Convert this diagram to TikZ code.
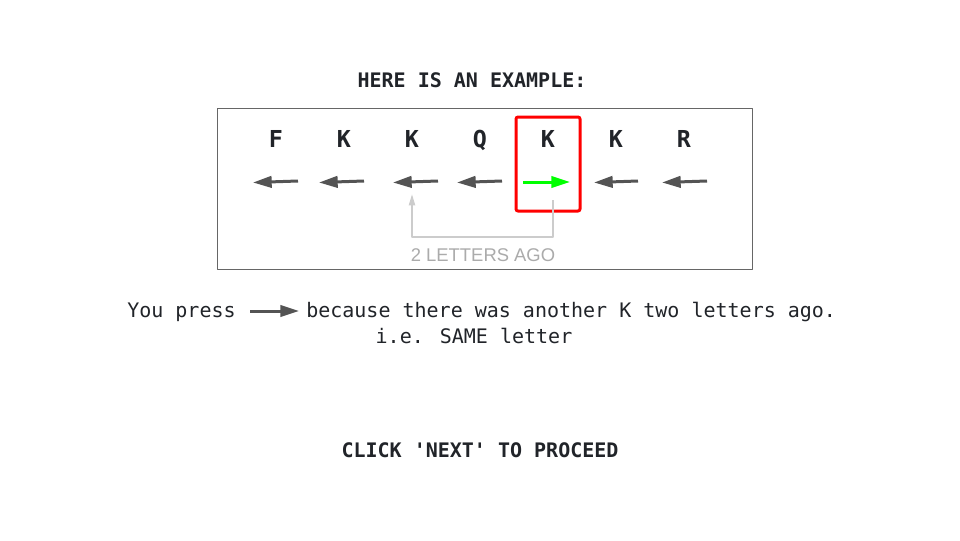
\documentclass[tikz,border=0pt]{standalone}
\usepackage{fontspec}
\setmainfont{DejaVu Sans Mono}
\newfontfamily\agofont{Liberation Sans}
\usetikzlibrary{arrows.meta}
\definecolor{txtgray}{rgb}{0.13,0.14,0.16}
\definecolor{keygray}{rgb}{0.33,0.33,0.33}
\definecolor{boxgray}{rgb}{0.4,0.4,0.4}
\definecolor{agogray}{rgb}{0.8,0.8,0.8}
\definecolor{agotext}{rgb}{0.67,0.67,0.67}
\definecolor{ggreen}{rgb}{0.,1.,0.}
\definecolor{rred}{rgb}{1.,0.,0.}
\tikzset{
  title/.style={anchor=base,inner sep=0pt,text=txtgray,font=\bfseries\fontsize{15}{18}\selectfont},
  body/.style={anchor=base west,inner sep=0pt,text=txtgray,font=\fontsize{15}{18}\selectfont},
  letter/.style={anchor=base,inner sep=0pt,text=txtgray,font=\bfseries\fontsize{17.5}{21}\selectfont},
  resp/.style={line width=2.25pt,-{Triangle[length=14pt,width=8.5pt]}},
}
\begin{document}
\begin{tikzpicture}[line cap=butt,line join=round,x=0.75pt,y=-0.75pt]
\useasboundingbox (0,0) rectangle (960,540);
\fill[white] (0,0) rectangle (960,540);
%\draw [help lines, step=20] (0,0) grid (960,540);
\node[title] (head) at (472,87) {HERE IS AN EXAMPLE:};
\draw [line width=0.75pt,color=boxgray] (217,108) rectangle (752,269);
% the letters
\node[letter] (l1) at (276,147) {F};
\node[letter] (l2) at (344,147) {K};
\node[letter] (l3) at (412,147) {K};
\node[letter] (l4) at (480,147) {Q};
\node[letter] (l5) at (548,147) {K};
\node[letter] (l6) at (616,147) {K};
\node[letter] (l7) at (684,147) {R};
% key presses
\foreach \t/\h in {298/253,364/319,438/393,502/457,638/594,707/662}
  \draw [resp,color=keygray] (\t,181) -- (\h,182.5);
\draw [resp,color=ggreen] (523,182) -- (570,182);
\draw [line width=2.25pt,color=rred,rounded corners=1.5pt] (516,117) rectangle (580,211);
% 2 letters ago
\coordinate (cur) at (553,200);
\coordinate (prev) at (412,194);
\draw [line width=1.5pt,color=agogray,-{Triangle[length=8.5pt,width=4.5pt]}] (cur) -- ++(0,37) -| (prev);
\node[anchor=base,inner sep=0pt,text=agotext,font=\agofont\fontsize{13.8}{16}\selectfont] (ago) at (483,261) {2 LETTERS AGO};
% explanation
\node[body] (press) at (127,317) {You press};
\coordinate (ks) at (250,311);
\coordinate (ke) at (299,311);
\draw [resp,color=keygray] (ks) -- (ke);
\node[body] (why) at (306,317) {because there was another K two letters ago.};
\node[body,anchor=base] (same) at (474,343) {i.e. SAME letter};
\node[title] (next) at (480,457) {CLICK \textquotesingle NEXT\textquotesingle{} TO PROCEED};
\end{tikzpicture}
\end{document}
